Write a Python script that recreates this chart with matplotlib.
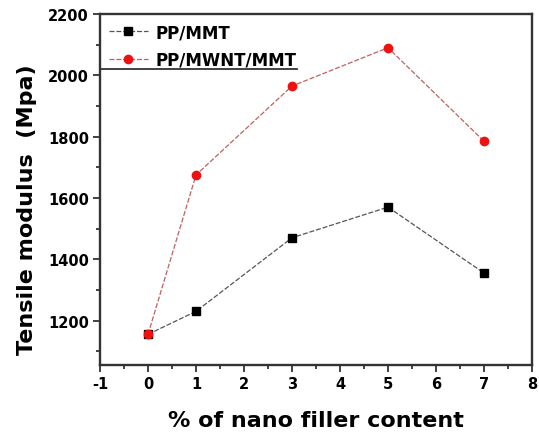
import matplotlib
matplotlib.use("Agg")
import matplotlib.pyplot as plt
from matplotlib.ticker import MultipleLocator
from matplotlib.lines import Line2D

plt.rcParams['font.family'] = ['DejaVu Sans']
plt.rcParams['axes.unicode_minus'] = False

x = [0, 1, 3, 5, 7]
pp_mmt = [1155, 1230, 1470, 1570, 1355]
pp_mwnt_mmt = [1155, 1675, 1965, 2090, 1785]
xticks = [-1, 0, 1, 2, 3, 4, 5, 6, 7, 8]
yticks = [1200, 1400, 1600, 1800, 2000, 2200]

fig = plt.figure(figsize=(5.39, 4.39), dpi=100)
ax = fig.add_axes([100/539, 1 - 366/439, (532 - 100)/539, (366 - 15)/439])

ax.plot(x, pp_mmt, color='#555555', lw=0.9, ls=(0, (4, 1.5)), marker='s',
        ms=5.5, mfc='black', mec='black', label='PP/MMT', zorder=3)
ax.plot(x, pp_mwnt_mmt, color='#c06060', lw=0.9, ls=(0, (4, 1.5)), marker='o',
        ms=6, mfc='#ee1111', mec='#ee1111', label='PP/MWNT/MMT', zorder=3)

ax.set_xlim(-1, 8)
ax.set_ylim(1055, 2200)
ax.set_xticks(xticks)
ax.set_yticks(yticks)
ax.xaxis.set_minor_locator(MultipleLocator(0.5))
ax.yaxis.set_minor_locator(MultipleLocator(100))
ax.tick_params(which='both', direction='out', width=1.3, color='#333333')
ax.tick_params(which='major', length=5, labelsize=10.5, pad=3)
ax.tick_params(which='minor', length=3)
for lab in ax.get_xticklabels() + ax.get_yticklabels():
    lab.set_fontweight('bold')
for s in ax.spines.values():
    s.set_linewidth(1.7)
    s.set_color('#333333')

ax.set_xlabel('% of nano filler content', fontsize=16, fontweight='bold')
ax.xaxis.set_label_coords(0.5, (366 - 421) / 351, transform=ax.transAxes)
ax.xaxis.label.set_va('center')
ax.set_ylabel('Tensile modulus  (Mpa)', fontsize=16, fontweight='bold')
ax.yaxis.set_label_coords((27 - 100) / 432, (366 - 210) / 351, transform=ax.transAxes)
ax.yaxis.label.set_va('center')

leg = ax.legend(loc='upper left', frameon=False, prop={'weight': 'bold', 'size': 12},
                handlelength=2.3, borderaxespad=0.25, labelspacing=0.55, handletextpad=0.5,
                borderpad=0.3)
ax.add_line(Line2D([0, 0.456], [0.843, 0.843], transform=ax.transAxes,
                   color='#333333', lw=1.3, clip_on=False))

fig.savefig('out.png', dpi=100)
